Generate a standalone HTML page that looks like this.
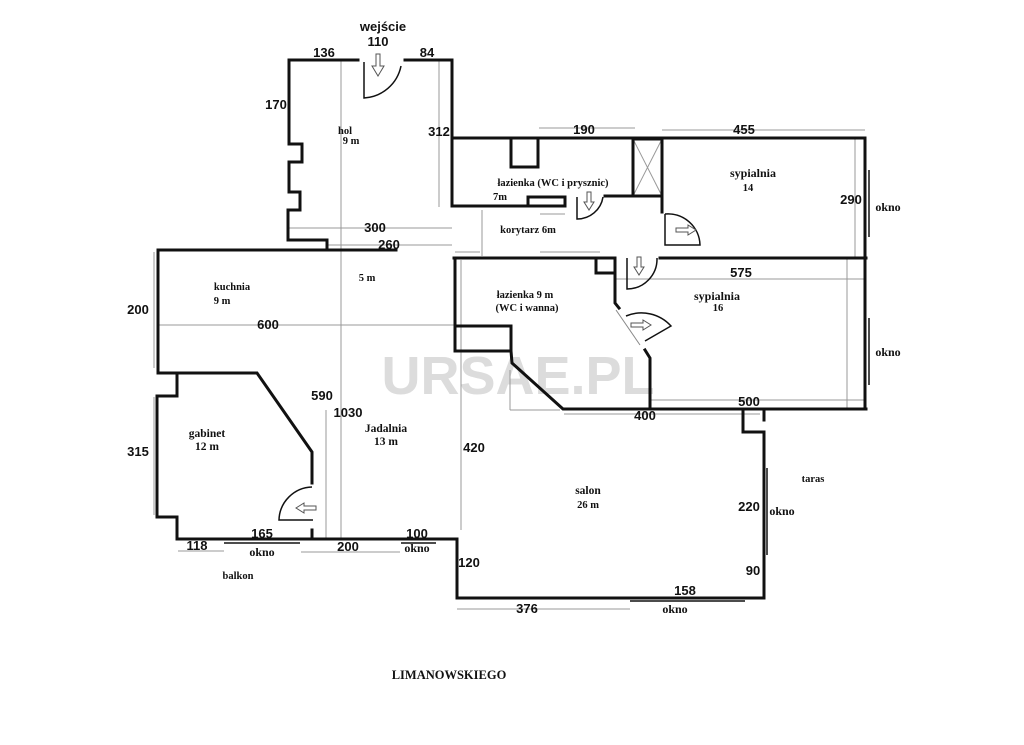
<!DOCTYPE html>
<html><head><meta charset="utf-8"><style>
html,body{margin:0;padding:0;background:#fff}
svg{display:block}
.w{stroke:#111;stroke-width:3;fill:none;stroke-linecap:square}
.t{stroke:#999;stroke-width:1;fill:none}
.d{stroke:#111;stroke-width:1.5;fill:none}
.n{font-family:"Liberation Sans",sans-serif;font-weight:bold;font-size:13px;fill:#111;text-anchor:middle}
.s{font-family:"Liberation Serif",serif;font-weight:bold;font-size:10.5px;fill:#111;text-anchor:middle}
</style></head><body>
<svg width="1024" height="745" viewBox="0 0 1024 745" xmlns="http://www.w3.org/2000/svg">
<rect width="1024" height="745" fill="#fff"/>
<text x="518" y="394" font-family="Liberation Sans,sans-serif" font-weight="bold" font-size="54" fill="#dcdcdc" text-anchor="middle">URSAE.PL</text>
<g class="t">
<line x1="341" y1="60" x2="341" y2="540"/>
<line x1="439" y1="60" x2="439" y2="207"/>
<line x1="289" y1="228" x2="452" y2="228"/>
<line x1="327" y1="245" x2="452" y2="245"/>
<line x1="158" y1="325" x2="454" y2="325"/>
<line x1="539" y1="128" x2="635" y2="128"/>
<line x1="662" y1="130" x2="865" y2="130"/>
<line x1="855" y1="139" x2="855" y2="258"/>
<line x1="615" y1="279" x2="866" y2="279"/>
<line x1="847" y1="258" x2="847" y2="409"/>
<line x1="650" y1="400" x2="866" y2="400"/>
<line x1="564" y1="414" x2="760" y2="414"/>
<line x1="461" y1="260" x2="461" y2="530"/>
<line x1="326" y1="410" x2="326" y2="540"/>
<line x1="154" y1="252" x2="154" y2="368"/>
<line x1="154" y1="397" x2="154" y2="515"/>
<line x1="178" y1="551" x2="224" y2="551"/>
<line x1="301" y1="552" x2="400" y2="552"/>
<line x1="457" y1="609" x2="630" y2="609"/>
<line x1="452" y1="207" x2="500" y2="207"/>
<line x1="540" y1="214" x2="565" y2="214"/>
<line x1="455" y1="252" x2="480" y2="252"/>
<line x1="540" y1="252" x2="600" y2="252"/>
<line x1="482" y1="210" x2="482" y2="256"/>
<line x1="510" y1="370" x2="510" y2="410"/>
<line x1="510" y1="410" x2="560" y2="410"/>
<line x1="633" y1="139" x2="662" y2="196"/>
<line x1="662" y1="139" x2="633" y2="196"/>
</g>
<g class="w">
<polyline points="358,60 289,60 289,144 302,144 302,162 289,162 289,192 300,192 300,210 288,210 288,240 327,240 327,250"/>
<polyline points="405,60 452,60 452,138 865,138 865,409"/>
<polyline points="158,250 396,250"/>
<polyline points="452,138 452,206 565,206"/>
<rect x="528" y="197" width="37" height="9"/>
<polyline points="511,138 511,167 538,167 538,138"/>
<polyline points="605,196 633,196"/>
<rect x="633" y="139" width="29" height="57"/>
<polyline points="662,196 662,212"/>
<polyline points="660,258 866,258"/>
<polyline points="454,258 615,258 615,303 619,308"/>
<polyline points="596,258 596,273 615,273"/>
<polyline points="455,258 455,351 511,351 511,326 455,326"/>
<polyline points="511,351 512,363 563,409 866,409"/>
<polyline points="645,350 650,358 650,409"/>
<polyline points="158,250 158,373 257,373 312,452 312,483"/>
<polyline points="158,373 177,373 177,396 157,396 157,517 177,517 177,539 457,539 457,598 764,598 764,432 743,432 743,409"/>
<line x1="764" y1="409" x2="764" y2="420"/>
<line x1="312" y1="530" x2="312" y2="539"/>
</g>
<g class="d" stroke-width="2">
<line x1="224" y1="543" x2="300" y2="543"/>
<line x1="401" y1="543" x2="436" y2="543"/>
<line x1="630" y1="601" x2="745" y2="601"/>
<line x1="767" y1="468" x2="767" y2="555"/>
<line x1="869" y1="170" x2="869" y2="237"/>
<line x1="869" y1="318" x2="869" y2="385"/>
</g>
<g class="d">
<path d="M364,62 L364,98 A40,40 0 0 0 401,66"/>
<path d="M577,197 L577,219 A26,26 0 0 0 603,197"/>
<path d="M665,214 L665,245 L700,245 A32,32 0 0 0 665,214"/>
<path d="M627,258 L627,289 A30,30 0 0 0 657,258"/>
<path d="M626,316 A40,40 0 0 1 671,326 L645,341"/>
<path d="M312,487 A34,34 0 0 0 279,520 L313,520"/>
<line x1="616" y1="310" x2="640" y2="345" stroke="#888" stroke-width="1"/>
</g>
<g stroke="#555" stroke-width="1" fill="#fff">
<path d="M376,54 L380,54 L380,66 L384,66 L378,76 L372,66 L376,66Z"/>
<path d="M587,192 L591,192 L591,202 L594,202 L589,210 L584,202 L587,202Z"/>
<path d="M637,257 L641,257 L641,267 L644,267 L639,275 L634,267 L637,267Z"/>
<path d="M676,228 L688,228 L688,225 L696,230 L688,235 L688,232 L676,232Z"/>
<path d="M631,323 L643,323 L643,320 L651,325 L643,330 L643,327 L631,327Z"/>
<path d="M316,506 L304,506 L304,503 L296,508 L304,513 L304,510 L316,510Z"/>
</g>
<g class="n">
<text x="383" y="31">wejście</text>
<text x="378" y="46">110</text>
<text x="324" y="57">136</text>
<text x="427" y="57">84</text>
<text x="276" y="109">170</text>
<text x="439" y="136">312</text>
<text x="584" y="134">190</text>
<text x="744" y="134">455</text>
<text x="851" y="204">290</text>
<text x="375" y="232">300</text>
<text x="389" y="249">260</text>
<text x="741" y="277">575</text>
<text x="138" y="314">200</text>
<text x="268" y="329">600</text>
<text x="322" y="400">590</text>
<text x="348" y="417">1030</text>
<text x="645" y="420">400</text>
<text x="749" y="406">500</text>
<text x="474" y="452">420</text>
<text x="138" y="456">315</text>
<text x="749" y="511">220</text>
<text x="262" y="538">165</text>
<text x="417" y="538">100</text>
<text x="197" y="550">118</text>
<text x="348" y="551">200</text>
<text x="469" y="567">120</text>
<text x="753" y="575">90</text>
<text x="685" y="595">158</text>
<text x="527" y="613">376</text>
</g>
<g class="s">
<text x="345" y="134">hol</text>
<text x="351" y="144">9 m</text>
<text x="553" y="186">łazienka (WC i prysznic)</text>
<text x="500" y="200">7m</text>
<text x="753" y="177" font-size="12">sypialnia</text>
<text x="748" y="191">14</text>
<text x="888" y="211" font-size="12">okno</text>
<text x="528" y="233">korytarz 6m</text>
<text x="232" y="290">kuchnia</text>
<text x="222" y="304">9 m</text>
<text x="367" y="281">5 m</text>
<text x="525" y="298">łazienka 9 m</text>
<text x="527" y="311">(WC i wanna)</text>
<text x="717" y="300" font-size="12">sypialnia</text>
<text x="718" y="311">16</text>
<text x="888" y="356" font-size="12">okno</text>
<text x="386" y="432" font-size="11.5">Jadalnia</text>
<text x="386" y="445" font-size="11.5">13 m</text>
<text x="207" y="437" font-size="11.5">gabinet</text>
<text x="207" y="450" font-size="11.5">12 m</text>
<text x="813" y="482">taras</text>
<text x="588" y="494" font-size="11.5">salon</text>
<text x="588" y="508">26 m</text>
<text x="782" y="515" font-size="12">okno</text>
<text x="262" y="556" font-size="12">okno</text>
<text x="417" y="552" font-size="12">okno</text>
<text x="238" y="579">balkon</text>
<text x="675" y="613" font-size="12">okno</text>
<text x="449" y="679" font-size="12.5">LIMANOWSKIEGO</text>
</g>
</svg>
</body></html>
